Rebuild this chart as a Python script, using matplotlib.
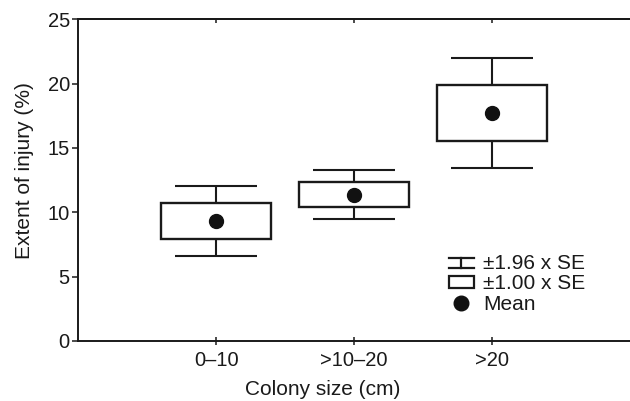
import numpy as np
import matplotlib
matplotlib.use('Agg')
from matplotlib import pyplot as plt
from matplotlib.lines import Line2D
from matplotlib.patches import Rectangle
from matplotlib.legend_handler import HandlerBase

plt.rcParams['font.family'] = ['Liberation Sans', 'DejaVu Sans']

# data
groups = ['0\u201310', '>10\u201320', '>20']
means = [9.3, 11.33, 17.74]
se_lo = [7.91, 10.37, 15.56]
se_hi = [10.74, 12.32, 19.89]
ci_lo = [6.56, 9.44, 13.46]
ci_hi = [12.06, 13.25, 21.99]

INK = '#1a1a1a'


class CapHandler(HandlerBase):
    # little "I" bar with caps for the ±1.96 SE entry
    def create_artists(self, legend, orig_handle, xd, yd, width, height, fontsize, trans):
        cx = xd + width / 2
        y0, y1 = yd + 2, yd + height + 1
        w = width
        lines = [
            Line2D([cx, cx], [y0, y1]),
            Line2D([cx - w / 2, cx + w / 2], [y0, y0]),
            Line2D([cx - w / 2, cx + w / 2], [y1, y1]),
        ]
        for ln in lines:
            ln.set_color(INK)
            ln.set_linewidth(1.6)
            ln.set_transform(trans)
        return lines


fig = plt.figure(figsize=(6.3, 4.01), dpi=100)
ax = fig.add_axes([0.124, 0.150, 0.876, 0.802])

x = np.arange(1, len(groups) + 1)
lw = 1.5
box_w = 0.8
cap_w = 0.6

# whiskers (±1.96 SE)
ax.vlines(x, ci_lo, se_lo, color=INK, lw=lw, zorder=2)
ax.vlines(x, se_hi, ci_hi, color=INK, lw=lw, zorder=2)
ax.hlines(ci_lo, x - cap_w / 2, x + cap_w / 2, color=INK, lw=lw, zorder=2)
ax.hlines(ci_hi, x - cap_w / 2, x + cap_w / 2, color=INK, lw=lw, zorder=2)

# boxes (±1 SE)
ax.bar(x, np.array(se_hi) - np.array(se_lo), bottom=se_lo, width=box_w,
       facecolor='white', edgecolor=INK, linewidth=lw + 0.2, zorder=3)

# means
ax.plot(x, means, 'o', color='#111111', markersize=10, zorder=4)

ax.set_xlim(0, 4)
ax.set_ylim(0, 25)
ax.set_xticks(x)
ax.set_xticklabels(groups)
ax.set_yticks([0, 5, 10, 15, 20, 25])

for s in ['top', 'bottom', 'left']:
    ax.spines[s].set_linewidth(1.4)
    ax.spines[s].set_color(INK)
ax.spines['right'].set_visible(False)

ax.tick_params(axis='y', direction='out', length=4, width=1.1, labelsize=14.5,
               pad=2, colors=INK)
ax.tick_params(axis='x', direction='inout', length=6, width=1.1, labelsize=14.5,
               pad=4, colors=INK)

top = ax.secondary_xaxis('top')
top.set_xticks(x)
top.tick_params(direction='in', length=3, width=1.1, labeltop=False, colors=INK)
top.spines['top'].set_linewidth(1.4)

ax.set_xlabel('Colony size (cm)', fontsize=15, color=INK)
ax.set_ylabel('Extent of injury (%)', fontsize=15, color=INK)
ax.xaxis.set_label_coords(0.444, -0.122)
ax.yaxis.set_label_coords(-0.080, 0.531)

# legend
h_err = object()
h_box = Rectangle((0, 0), 1, 1, facecolor='white', edgecolor=INK, linewidth=1.6)
h_mean = Line2D([], [], marker='o', linestyle='none', color='#111111', markersize=10.5)
leg = ax.legend([h_err, h_box, h_mean], ['\u00b11.96 x SE', '\u00b11.00 x SE', 'Mean'],
                handler_map={h_err: CapHandler()},
                loc='lower left', bbox_to_anchor=(0.672, 0.085), frameon=False,
                fontsize=15, handlelength=1.2, handleheight=0.5,
                handletextpad=0.43, labelspacing=0.05, borderpad=0, borderaxespad=0)
for t in leg.get_texts():
    t.set_color(INK)

fig.savefig('out.png', dpi=100)
